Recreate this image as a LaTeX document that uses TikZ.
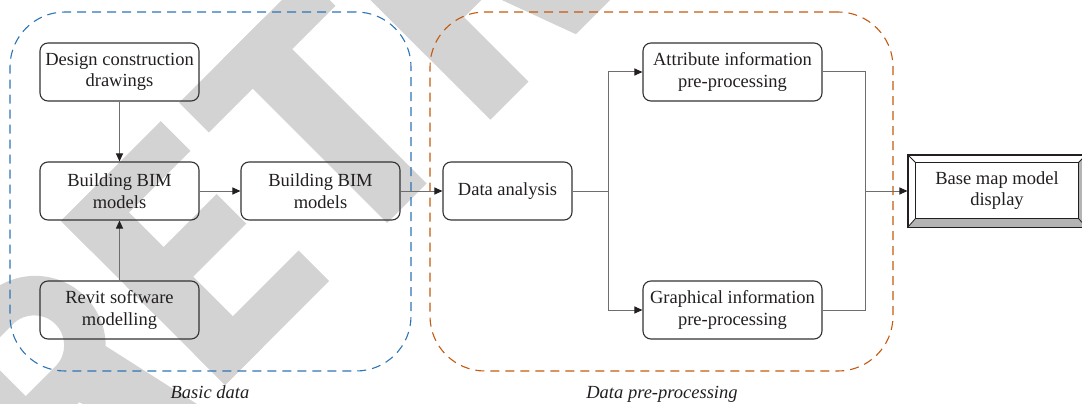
\documentclass[tikz,border=0pt]{standalone}
\usepackage{fontspec}
\setmainfont{Liberation Serif}
\usetikzlibrary{arrows.meta,calc}

\definecolor{inkdark}{HTML}{231F20}
\definecolor{boxline}{HTML}{333333}
\definecolor{wireclr}{HTML}{6E6E6E}
\definecolor{stampgray}{RGB}{211,211,211}
\definecolor{groupblue}{HTML}{2E75B6}
\definecolor{grouporange}{HTML}{C55A11}
\definecolor{bevelgray}{HTML}{B4B4B4}

\tikzset{
  proc/.style={draw=boxline, line width=1.1pt, rounded corners=8pt,
    minimum width=159pt, minimum height=58pt, inner sep=0pt,
    align=center, text=inkdark,
    font=\fontsize{18.5}{21.7}\selectfont},
  group/.style={line width=1.1pt, rounded corners=55pt,
    dash pattern=on 9pt off 6pt, inner sep=0pt},
  grouplabel/.style={anchor=base, text=inkdark,
    font=\fontsize{18.5}{21.7}\selectfont\itshape},
  wire/.style={draw=wireclr, line width=1pt},
  flow/.style={wire, -{Triangle[length=8pt,width=7pt,color=inkdark]}},
}

\begin{document}
\begin{tikzpicture}[x=1pt,y=-1pt]
\useasboundingbox (0,0) rectangle (1082,404);
\begin{scope}
\clip (0,0) rectangle (1082,404);

% stamp lettering behind the chart, set on a baseline rising at 45 degrees
\begin{scope}[shift={(305,305)}, rotate=45, x=1pt, y=1pt]
  % the two R letters, origin at the left foot of the stem
  \foreach \rx in {-316,262} {
    \begin{scope}[xshift=\rx pt]
      \fill[stampgray] (0,0) rectangle (54,232);
      \fill[stampgray, even odd rule]
        (0,91) -- (96,91) arc[start angle=-90, end angle=90, radius=70.5]
        -- (0,232) -- cycle
        (54,133) -- (96,133) arc[start angle=-90, end angle=90, radius=30]
        -- (54,193) -- cycle;
      \fill[stampgray] (121,0) -- (171,0) -- (146,112) -- (86,95) -- cycle;
    \end{scope}
  }
  % E
  \fill[stampgray] (-113,0) rectangle (-59,232);
  \fill[stampgray] (-113,190) rectangle (28,232);
  \fill[stampgray] (-113,99) rectangle (16,141);
  \fill[stampgray] (-113,0) rectangle (34,43);
  % T
  \fill[stampgray] (54,190) rectangle (233,232);
  \fill[stampgray] (116,0) rectangle (172,232);
\end{scope}

% dashed groups
\node[group, draw=groupblue, minimum width=401pt, minimum height=359pt]
      (basicgrp) at (210.5,191.5) {};
\node[group, draw=grouporange, minimum width=463pt, minimum height=359pt]
      (pregrp) at (661.5,191.5) {};
\node[grouplabel] (basiclbl) at (210,398) {Basic data};
\node[grouplabel] (prelbl) at (662,398) {Data pre-processing};

% process boxes
\node[proc] (design)   at (119.5,72)  {Design construction\\drawings};
\node[proc] (bimL)     at (119.5,191) {Building BIM\\models};
\node[proc] (revit)    at (119.5,310) {Revit software\\modelling};
\node[proc] (bimR)     at (320.5,191) {Building BIM\\models};
\node[proc, minimum width=129pt] (analysis) at (507.5,191) {Data analysis};
\node[proc, minimum width=179pt] (attr)  at (732.5,72)  {Attribute information\\pre-processing};
\node[proc, minimum width=179pt] (graph) at (732.5,310) {Graphical information\\pre-processing};

% bevelled display box
\node[draw=inkdark, line width=1.1pt, fill=white, minimum width=178pt,
      minimum height=72pt, inner sep=0pt] (base) at (997,191) {};
\coordinate (iNW) at ($(base.north west)+(8,8)$);
\coordinate (iNE) at ($(base.north east)+(-8,8)$);
\coordinate (iSW) at ($(base.south west)+(8,-9)$);
\coordinate (iSE) at ($(base.south east)+(-8,-9)$);
\fill[bevelgray] (base.south west) -- (iSW) -- (iSE) -- (base.south east) -- cycle;
\fill[bevelgray] (base.north east) -- (iNE) -- (iSE) -- (base.south east) -- cycle;
\draw[inkdark, line width=0.8pt]
  (base.north west) -- (iNW) (base.north east) -- (iNE)
  (base.south west) -- (iSW) (base.south east) -- (iSE);
\draw[inkdark, line width=1.1pt] (base.north west) rectangle (base.south east);
\draw[inkdark, line width=1.1pt, fill=white] (iNW) rectangle (iSE);
\node[align=center, text=inkdark, font=\fontsize{18.5}{21.7}\selectfont]
      (basetxt) at ($(iNW)!0.5!(iSE)$) {Base map model\\display};

% connectors
\draw[flow] (design) -- (bimL);
\draw[flow] (revit) -- (bimL);
\draw[flow] (bimL) -- (bimR);
\draw[flow] (bimR) -- (analysis);

\coordinate (split) at (608,191);
\coordinate (merge) at (865,191);
\draw[wire] (analysis) -- (split);
\draw[flow] (split) |- (attr.west);
\draw[flow] (split) |- (graph.west);
\draw[wire] (attr.east) -| (merge);
\draw[wire] (graph.east) -| (merge);
\draw[flow] (merge) -- (base.west);
\end{scope}
\end{tikzpicture}
\end{document}
